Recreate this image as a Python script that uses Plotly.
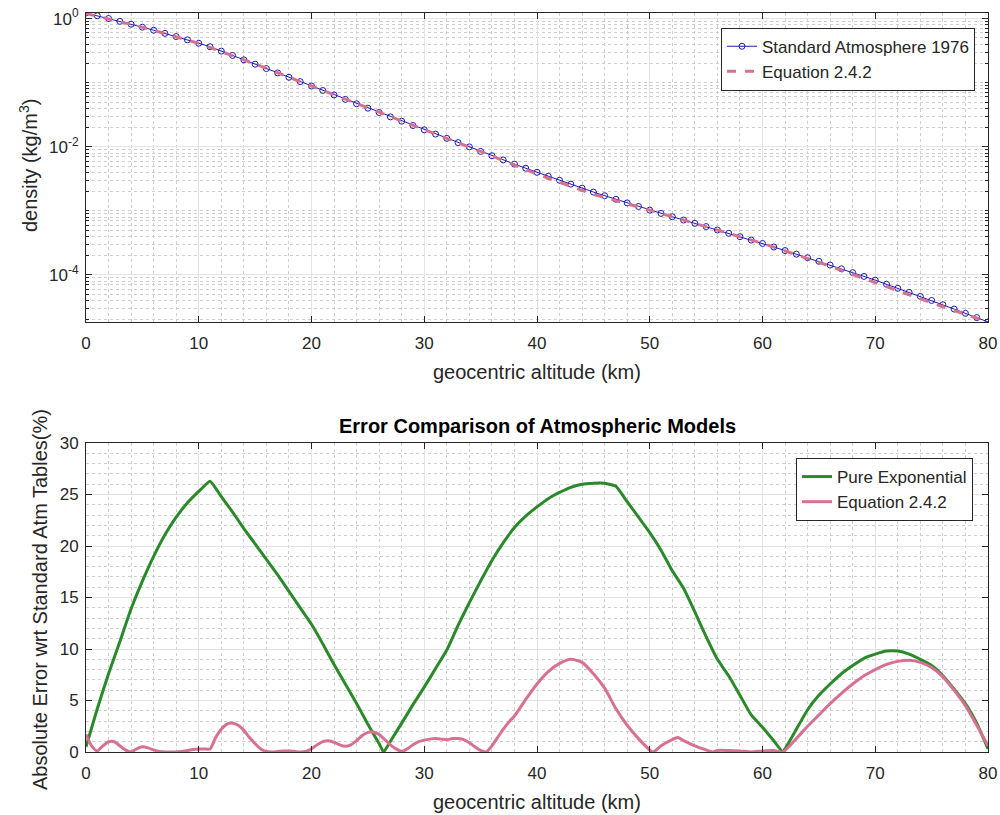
import plotly.graph_objects as go

# ---- Top panel data: density vs altitude ----
alt_std = list(range(0, 81))
rho_std = [1.225, 1.112, 1.007, 0.9093, 0.8194, 0.7364, 0.6601, 0.5900, 0.5258, 0.4671,
           0.4135, 0.3648, 0.3119, 0.2666, 0.2279, 0.1948, 0.1665, 0.1423, 0.1217, 0.1040,
           0.08891, 0.07572, 0.06451, 0.05500, 0.04694, 0.04008, 0.03426, 0.02930, 0.02508, 0.02148,
           0.01841, 0.01579, 0.01355, 0.01163, 0.009970, 0.008463, 0.007260, 0.006240, 0.005370, 0.004630,
           0.003996, 0.003460, 0.003000, 0.002610, 0.002260, 0.001966, 0.001725, 0.001516, 0.001330, 0.001170,
           0.001027, 0.000912, 0.000810, 0.000719, 0.000639, 0.0005681, 0.000503, 0.000446, 0.000395, 0.000350,
           0.0003097, 0.0002725, 0.000240, 0.000211, 0.0001856, 0.0001632, 0.0001425, 0.0001244, 0.0001086, 0.0000948,
           0.00008283, 0.0000716, 0.0000618, 0.0000534, 0.0000462, 0.00003992, 0.0000342, 0.0000293, 0.0000251, 0.00002155,
           0.00001846]

alt_eq = [0, 5, 10, 15, 20, 25, 30, 35, 40, 45, 50, 55, 60, 65, 70, 75, 80]
rho_eq = [1.204, 0.738, 0.4123, 0.1963, 0.08900, 0.04082, 0.01862, 0.008466, 0.003733, 0.001808,
          0.001027, 0.0005678, 0.0003104, 0.0001574, 0.0000762, 0.0000366, 0.0000185]

# ---- Bottom panel data: absolute error (%) ----
alt_exp = [0, 1, 2, 3, 4, 5, 6, 7, 8, 9, 10, 11, 12, 13, 14, 15, 16, 17, 18, 19, 20,
           21, 22, 23, 24, 25, 26, 26.4, 27, 28, 29, 30, 31, 32, 33, 34, 35, 36, 37, 38, 39, 40,
           41, 42, 43, 44, 45, 46, 47, 48, 49, 50, 51, 52, 53, 54, 55, 56, 57, 58, 59, 60,
           61, 61.8, 62, 63, 64, 65, 66, 67, 68, 69, 70, 71, 72, 73, 74, 75, 76, 77, 78, 79, 80]
err_exp = [0.5, 4.2, 7.6, 10.7, 13.9, 16.6, 19.0, 21.1, 22.8, 24.2, 25.3, 26.3, 24.8, 23.3, 21.7, 20.2, 18.7, 17.2, 15.6, 14.0, 12.4,
           10.5, 8.5, 6.6, 4.7, 2.7, 0.8, 0.0, 1.05, 2.8, 4.6, 6.3, 8.1, 9.9, 12.3, 14.5, 16.6, 18.6, 20.3, 21.8, 22.9, 23.8,
           24.6, 25.2, 25.7, 26.0, 26.1, 26.1, 25.8, 24.3, 22.8, 21.3, 19.6, 17.6, 15.9, 13.6, 11.2, 9.0, 7.4, 5.5, 3.6, 2.4,
           1.1, 0.0, 0.3, 2.2, 4.1, 5.5, 6.6, 7.6, 8.4, 9.1, 9.5, 9.8, 9.8, 9.5, 9.0, 8.4, 7.4, 6.1, 4.7, 2.8, 0.3]

alt_e242 = [0, 0.5, 1, 1.5, 2, 2.5, 3, 3.5, 4, 4.5, 5, 5.5, 6, 6.5, 7, 7.5, 8, 8.5, 9, 9.5,
            10, 10.5, 11, 11.5, 12, 12.5, 13, 13.5, 14, 14.5, 15, 15.5, 16, 16.5, 17, 17.5, 18, 18.5, 19, 19.5,
            20, 20.5, 21, 21.5, 22, 22.5, 23, 23.5, 24, 24.5, 25, 25.5, 26, 26.5, 27, 27.5, 28, 28.5, 29, 29.5,
            30, 30.5, 31, 31.5, 32, 32.5, 33, 33.5, 34, 34.5, 35, 35.5, 36, 36.5, 37, 37.5, 38, 39, 40,
            41, 42, 43, 44, 45, 46, 47, 48, 49, 50, 50.3, 51, 52, 52.5, 53, 54, 55, 55.6, 56, 57, 58, 59, 60,
            61, 61.8, 63, 64, 65, 66, 67, 68, 69, 70, 71, 72, 73, 74, 75, 76, 77, 78, 79, 80]
err_e242 = [1.7, 0.6, 0.1, 0.6, 1.0, 1.0, 0.6, 0.2, 0.0, 0.3, 0.5, 0.4, 0.2, 0.05, 0.0, 0.0, 0.0, 0.05, 0.15, 0.25,
            0.3, 0.3, 0.3, 1.4, 2.2, 2.7, 2.8, 2.6, 2.1, 1.4, 0.8, 0.3, 0.05, 0.0, 0.05, 0.1, 0.1, 0.05, 0.0, 0.05,
            0.3, 0.7, 1.0, 1.1, 0.95, 0.7, 0.55, 0.7, 1.1, 1.6, 1.9, 1.95, 1.7, 1.2, 0.7, 0.3, 0.05, 0.3, 0.7, 1.0,
            1.15, 1.25, 1.3, 1.25, 1.2, 1.3, 1.3, 1.2, 0.9, 0.5, 0.15, 0.0, 0.6, 1.4, 2.2, 2.9, 3.5, 5.1, 6.6,
            7.8, 8.6, 9.0, 8.7, 7.6, 6.2, 4.2, 2.6, 1.3, 0.2, 0.0, 0.6, 1.2, 1.4, 1.1, 0.6, 0.2, 0.0, 0.15, 0.15, 0.1, 0.0, 0.1,
            0.15, 0.0, 1.3, 2.5, 3.6, 4.7, 5.7, 6.6, 7.4, 8.0, 8.5, 8.8, 8.9, 8.7, 8.2, 7.3, 6.0, 4.5, 2.6, 0.6]

decade_vals = [1e-4, 1e-2, 1]
decade_text = ["10<sup>-4</sup>", "10<sup>-2</sup>", "10<sup>0</sup>"]

FONT = "Liberation Sans, Arial, Helvetica, sans-serif"
AX = "#262626"
BLUE = "#1c1cb4"
PINK = "#d8708f"
GREEN = "#2a8a2a"
GRID = "#e3e3e3"
MINOR = "#cfcfcf"
TICK_SIZE = 17
LABEL_SIZE = 20

fig = go.Figure()

fig.add_trace(go.Scatter(x=alt_std, y=rho_std, mode="lines+markers",
                         name="Standard Atmosphere 1976",
                         line=dict(color=BLUE, width=1),
                         marker=dict(symbol="circle-open", size=6, color=BLUE, line=dict(width=1)),
                         xaxis="x", yaxis="y", legend="legend"))
fig.add_trace(go.Scatter(x=alt_eq, y=rho_eq, mode="lines", name="Equation 2.4.2",
                         line=dict(color=PINK, width=3, dash="dash"),
                         xaxis="x", yaxis="y", legend="legend"))

fig.add_trace(go.Scatter(x=alt_exp, y=err_exp, mode="lines", name="Pure Exponential",
                         line=dict(color=GREEN, width=3, shape="spline", smoothing=0.4),
                         xaxis="x2", yaxis="y2", legend="legend2"))
fig.add_trace(go.Scatter(x=alt_e242, y=err_e242, mode="lines", name="Equation 2.4.2",
                         line=dict(color=PINK, width=3, shape="spline", smoothing=0.6),
                         xaxis="x2", yaxis="y2", legend="legend2"))

common_axis = dict(showline=True, linecolor=AX, linewidth=1, mirror="ticks",
                   ticks="inside", ticklen=6, tickcolor=AX, zeroline=False,
                   showgrid=True, gridcolor=GRID, gridwidth=1, automargin=False,
                   tickfont=dict(family=FONT, size=TICK_SIZE, color=AX))

fig.update_layout(
    width=1000, height=815,
    margin=dict(l=0, r=0, t=0, b=0, autoexpand=False),
    paper_bgcolor="white", plot_bgcolor="white",
    font=dict(family=FONT, size=TICK_SIZE, color=AX),
    showlegend=True,
    xaxis=dict(domain=[0.086, 0.988], anchor="y", range=[0, 80], dtick=10, tick0=0,
               ticklabelstandoff=6,
               minor=dict(dtick=2, showgrid=True, gridcolor=MINOR, griddash="dot", ticks=""),
               **common_axis),
    yaxis=dict(domain=[0.605, 0.984], anchor="x", type="log",
               range=[-4.7338, 0.0881], tickvals=decade_vals, ticktext=decade_text,
               ticklabelstandoff=3,
               minor=dict(dtick="D1", showgrid=True, gridcolor=MINOR, griddash="dot",
                          ticks="inside", ticklen=3, tickcolor=AX),
               **common_axis),
    xaxis2=dict(domain=[0.086, 0.988], anchor="y2", range=[0, 80], dtick=10, tick0=0,
                ticklabelstandoff=6,
                minor=dict(dtick=2, showgrid=True, gridcolor=MINOR, griddash="dot", ticks=""),
                **common_axis),
    yaxis2=dict(domain=[0.0773, 0.4564], anchor="x2", range=[0, 30], dtick=5, tick0=0,
                ticklabelstandoff=3,
                minor=dict(dtick=1, showgrid=True, gridcolor=MINOR, griddash="dot", ticks=""),
                **common_axis),
    legend=dict(x=0.975, y=0.966, xanchor="right", yanchor="top",
                bgcolor="white", bordercolor=AX, borderwidth=1,
                font=dict(family=FONT, size=TICK_SIZE, color=AX), tracegroupgap=0),
    legend2=dict(x=0.973, y=0.438, xanchor="right", yanchor="top",
                 bgcolor="white", bordercolor=AX, borderwidth=1,
                 font=dict(family=FONT, size=TICK_SIZE, color=AX), tracegroupgap=0),
    annotations=[
        dict(text="geocentric altitude (km)", x=0.537, y=(815 - 372) / 815, xref="paper", yref="paper",
             showarrow=False, font=dict(family=FONT, size=LABEL_SIZE, color=AX), xanchor="center", yanchor="middle"),
        dict(text="geocentric altitude (km)", x=0.537, y=(815 - 802) / 815, xref="paper", yref="paper",
             showarrow=False, font=dict(family=FONT, size=LABEL_SIZE, color=AX), xanchor="center", yanchor="middle"),
        dict(text="density (kg/m<sup>3</sup>)", x=28 / 1000, y=(815 - 166) / 815, xref="paper", yref="paper",
             showarrow=False, textangle=-90, font=dict(family=FONT, size=LABEL_SIZE, color=AX),
             xanchor="center", yanchor="middle"),
        dict(text="Absolute Error wrt Standard Atm Tables(%)", x=40 / 1000, y=(815 - 600) / 815,
             xref="paper", yref="paper", showarrow=False, textangle=-90,
             font=dict(family=FONT, size=LABEL_SIZE, color=AX), xanchor="center", yanchor="middle"),
        dict(text="<b>Error Comparison of Atmospheric Models</b>", x=0.537, y=(815 - 426) / 815,
             xref="paper", yref="paper", showarrow=False,
             font=dict(family=FONT, size=LABEL_SIZE, color="black"), xanchor="center", yanchor="middle"),
    ],
)

fig.write_html("out.html")
